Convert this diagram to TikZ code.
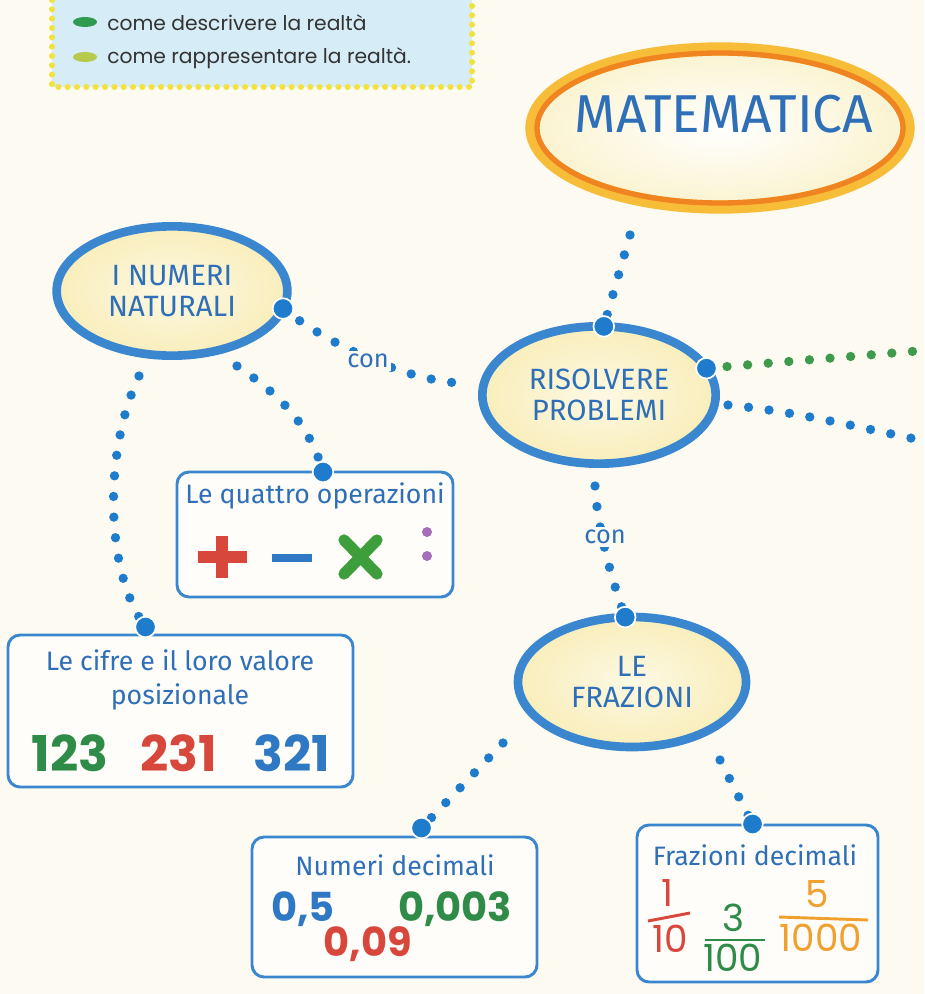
\documentclass[tikz,border=0pt]{standalone}
\usepackage{fontspec}
\setmainfont{Fira Sans}
\newfontfamily\numfont{Poppins}
\usetikzlibrary{shapes.geometric,calc}

\definecolor{paper}{HTML}{FCFAF1}
\definecolor{mapblue}{HTML}{3A87D0}
\definecolor{dotblue}{HTML}{1F7BCB}
\definecolor{inkblue}{HTML}{2E6FB8}
\definecolor{creamfill}{HTML}{F9EEBB}
\definecolor{ringorange}{HTML}{EF8420}
\definecolor{ringyellow}{HTML}{F7BC38}
\definecolor{legendblue}{HTML}{D6ECF7}
\definecolor{legendyellow}{HTML}{F3E13C}
\definecolor{dotgreen}{HTML}{3E9A4C}
\definecolor{numgreen}{HTML}{2E8B48}
\definecolor{numred}{HTML}{D8473C}
\definecolor{numblue}{HTML}{2F78C4}
\definecolor{numorange}{HTML}{F0A02E}
\definecolor{xgreen}{HTML}{3E9E3C}
\definecolor{colonpurple}{HTML}{A56DBA}
\definecolor{bulletgreen}{HTML}{2F9A50}
\definecolor{bulletlime}{HTML}{B8CA4C}

\begin{document}
\begin{tikzpicture}[x=0.75pt,y=0.75pt,yscale=-1,xscale=1,
    bubble/.style={ellipse, draw=mapblue, line width=6.5pt, outer sep=0pt, inner sep=0pt,
        inner color=white!60!creamfill, outer color=creamfill, text=inkblue, align=center,
        font=\fontsize{22}{23}\selectfont},
    card/.style={rectangle, rounded corners=9pt, draw=mapblue, line width=2.2pt,
        outer sep=0pt, inner sep=0pt, fill=white!55!paper},
    cardtitle/.style={text=inkblue, align=center, inner sep=0pt,
        font=\fontsize{20}{26}\selectfont},
    bigdot/.style={circle, fill=dotblue, draw=white, line width=1.3pt, minimum size=15.5pt, inner sep=0pt},
    dotchain/.style={draw=dotblue, line width=7pt, line cap=round, dash pattern=on 0pt off 15.5pt},
    greenchain/.style={dotchain, draw=dotgreen},
    conlabel/.style={fill=paper, text=inkblue, inner sep=2pt, font=\fontsize{19}{20}\selectfont},
    bignum/.style={inner sep=0pt, font=\numfont\bfseries\fontsize{37}{38}\selectfont},
    decnum/.style={inner sep=0pt, font=\numfont\bfseries\fontsize{30}{32}\selectfont},
    fracnum/.style={inner sep=0pt, font=\numfont\fontsize{28}{30}\selectfont},
    legendtext/.style={anchor=west, inner sep=0pt, text=black!80, font=\numfont\fontsize{15.2}{18}\selectfont}
]
    % page
    \fill[paper] (0,0) rectangle (924,994);
    \useasboundingbox (0,0) rectangle (924,994);

    % legend box
    \fill[legendblue] (52,-5) rectangle (472,87);
    \draw[legendyellow, line width=4.5pt, line cap=round, dash pattern=on 0pt off 7pt] (52,0) -- (52,87) -- (472,87) -- (472,0);
    \fill[bulletgreen] (85,22) ellipse [x radius=12, y radius=5];
    \fill[bulletlime] (85,57) ellipse [x radius=12, y radius=5];
    \node[legendtext] (descrivere) at (107,23) {come descrivere la realtà};
    \node[legendtext] (rappresentare) at (107,58) {come rappresentare la realtà.};

    % main title
    \node[ellipse, minimum width=282pt, minimum height=118.5pt, draw=ringyellow, line width=10pt,
        outer sep=0pt, inner color=white, outer color=creamfill!70!white] (matematica) at (720,128) {};
    \draw[ringorange, line width=4pt] (matematica.center) ellipse [x radius=183, y radius=75];
    \node[text=inkblue, font=\fontsize{40}{42}\selectfont] (mtitle) at (724,114) {MATEMATICA};

    % ellipses
    \node[bubble, minimum width=173pt, minimum height=97pt] (numeri) at (172,291) {I NUMERI\\NATURALI};
    \node[bubble, minimum width=175pt, minimum height=103pt] (risolvere) at (599,395) {RISOLVERE\\PROBLEMI};
    \node[bubble, minimum width=171pt, minimum height=97.5pt] (frazioni) at (632,682) {LE\\FRAZIONI};

    % cards
    \node[card, minimum width=207pt, minimum height=93.75pt] (quattro) at (315,534.5) {};
    \node[card, minimum width=258.75pt, minimum height=114pt] (cifre) at (180.5,711) {};
    \node[card, minimum width=213.75pt, minimum height=105pt] (decimali) at (394.5,907) {};
    \node[card, minimum width=180.75pt, minimum height=117.75pt] (frazdec) at (757.5,903.5) {};

    % dot points
    \coordinate (pnum) at (numeri.-9);
    \coordinate (ptop) at (risolvere.86);
    \coordinate (pright) at (risolvere.14);
    \coordinate (pfraz) at (frazioni.96);
    \coordinate (pquattro) at ($(quattro.north)+(8,0)$);
    \coordinate (pcifre) at ($(cifre.north)+(-35,-8)$);
    \coordinate (pdecimali) at ($(decimali.north)+(27,-9)$);
    \coordinate (pfrazdec) at ($(frazdec.north)+(-5,-1)$);

    % chain starts
    \coordinate (m1) at (630,235);
    \coordinate (n1) at (237,366);
    \coordinate (n2) at (139,376);
    \coordinate (r1) at (595,486);
    \coordinate (r2) at (728,405);
    \coordinate (rl) at (458,383);
    \coordinate (f1) at (503,743);
    \coordinate (f2) at (720,760);
    \coordinate (gend) at (930,350);
    \coordinate (bend) at (930,442);

    % dotted links
    \draw[dotchain] (m1) -- (ptop);
    \draw[dotchain] (pnum) .. controls (320,338) and (395,378) .. (rl);
    \node[conlabel] (con1) at (368,361) {con};
    \draw[dotchain] (n1) .. controls (280,395) and (310,425) .. (pquattro);
    \draw[dotchain] (n2) .. controls (104,450) and (104,570) .. (pcifre);
    \draw[dotchain] (r1) .. controls (597,525) and (610,575) .. (pfraz);
    \node[conlabel] (con2) at (605,537) {con};
    \draw[dotchain] (f1) -- (pdecimali);
    \draw[dotchain] (f2) -- (pfrazdec);
    \draw[greenchain] (pright) -- (gend);
    \draw[dotchain] (r2) .. controls (800,412) and (860,428) .. (bend);

    % big dots
    \node[bigdot] (numdot) at (pnum) {};
    \node[bigdot] (topdot) at (ptop) {};
    \node[bigdot] (rightdot) at (pright) {};
    \node[bigdot] (frazdot) at (pfraz) {};
    \node[bigdot] (quattrodot) at (pquattro) {};
    \node[bigdot] (cifredot) at (pcifre) {};
    \node[bigdot] (decimalidot) at (pdecimali) {};
    \node[bigdot] (frazdecdot) at (pfrazdec) {};

    % le quattro operazioni
    \node[cardtitle] (quattrotitle) at (315,496) {Le quattro operazioni};
    \draw[numred, line width=9pt] (198,557) -- (247,557) (222,536) -- (222,578);
    \draw[numblue, line width=5.5pt] (272,558) -- (312,558);
    \draw[xgreen, line width=8.5pt, line cap=round] (344,540) -- (377,574) (377,540) -- (344,574);
    \fill[colonpurple] (427,532) circle [radius=5] (427,556) circle [radius=5];

    % le cifre
    \node[cardtitle] (cifretitle) at (180,680) {Le cifre e il loro valore\\posizionale};
    \node[bignum, text=numgreen] (n123) at (70,753) {123};
    \node[bignum, text=numred] (n231) at (179,753) {231};
    \node[bignum, text=numblue] (n321) at (292,753) {321};

    % numeri decimali
    \node[cardtitle] (decimalititle) at (395,865) {Numeri decimali};
    \node[decnum, text=numblue] (d05) at (303,909) {0,5};
    \node[decnum, text=numred] (d009) at (368,944) {0,09};
    \node[decnum, text=numgreen] (d0003) at (455,909) {0,003};

    % frazioni decimali
    \node[cardtitle] (frazdectitle) at (755,855) {Frazioni decimali};
    \node[fracnum, text=numred] (f1num) at (667,893) {1};
    \draw[numred, line width=2.2pt] (648,921) -- (690,913);
    \node[fracnum, text=numred] (f1den) at (670,939) {10};
    \node[fracnum, text=numgreen] (f3num) at (733,918) {3};
    \draw[numgreen, line width=2.2pt] (705,940) -- (765,940);
    \node[fracnum, text=numgreen] (f3den) at (733,958) {100};
    \node[fracnum, text=numorange] (f5num) at (817,894) {5};
    \draw[numorange, line width=2.2pt] (779,917) -- (868,920);
    \node[fracnum, text=numorange] (f5den) at (821,938) {1000};

\end{tikzpicture}
\end{document}
